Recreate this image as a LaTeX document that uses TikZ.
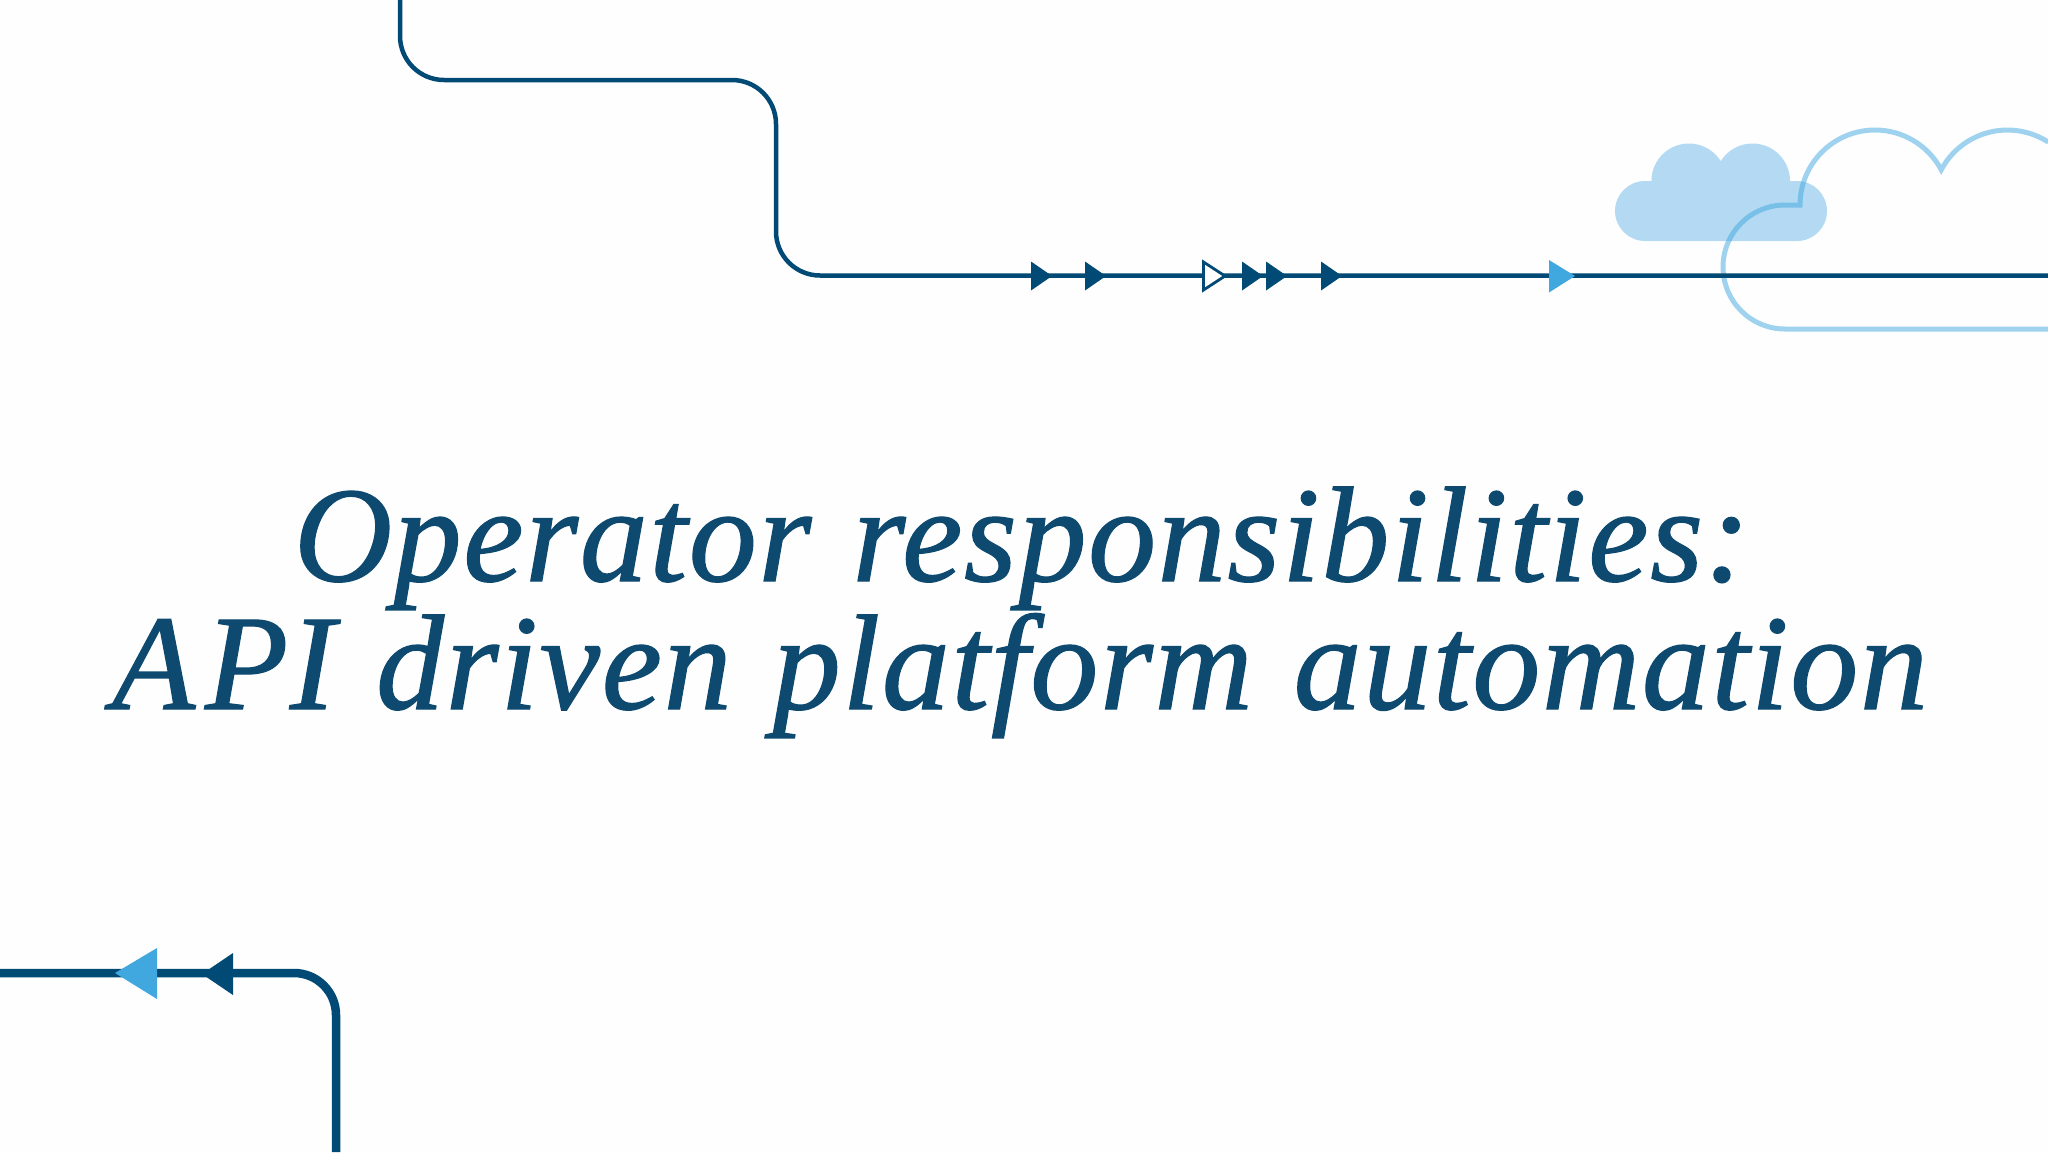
\documentclass[tikz,border=0pt]{standalone}
\usepackage{fontspec}
\setmainfont{Liberation Serif}[ItalicFeatures={FakeBold=0.9,LetterSpace=1.2,WordSpace=1.15}]
\usepackage{tikz}
\usetikzlibrary{backgrounds}
\definecolor{flowblue}{HTML}{004A75}
\definecolor{tipblue}{HTML}{41A8DF}
\definecolor{cloudblue}{HTML}{B3DAF2}
\definecolor{titleblue}{HTML}{0E4A70}
\tikzset{
	flowline/.style={draw=flowblue,line width=4.5pt,rounded corners=44pt},
	thickline/.style={draw=flowblue,line width=8.5pt,rounded corners=42pt},
	cloudline/.style={draw=tipblue,opacity=.5,line width=5pt,miter limit=10},
	titleline/.style={text=titleblue,anchor=base,inner sep=0pt,font=\fontsize{136}{150}\selectfont\itshape}
}

\begin{document}
\begin{tikzpicture}[x=1pt,y=1pt]
	
	\useasboundingbox[fill=white!99.5!black] (0,0) rectangle (2048,-1152);
	
	% clouds
	\fill[cloudblue] (1645,-241) -- (1797,-241) arc[start angle=270,end angle=450,radius=30] -- (1790,-181)
		arc[start angle=0,end angle=148,radius=37.5] arc[start angle=32,end angle=180,radius=37.5]
		-- (1645,-181) arc[start angle=90,end angle=270,radius=30] -- cycle;
	\draw[cloudline] (2048,-329) -- (1785,-329) arc[start angle=270,end angle=90,radius=62] -- (1800,-205)
		arc[start angle=180,end angle=28,radius=75] arc[start angle=152,end angle=57,radius=75];
	
	% upper line
	\coordinate (topstart) at (400,0);
	\coordinate (bendA) at (400,-80);
	\coordinate (bendB) at (776,-80);
	\coordinate (bendC) at (776,-275.5);
	\coordinate (topend) at (2048,-275.5);
	\draw[flowline] (topstart) -- (bendA) -- (bendB) -- (bendC) -- (topend);
	
	% lower line
	\coordinate (lowstart) at (0,-973);
	\coordinate (lowbend) at (336,-973);
	\coordinate (lowend) at (336,-1152);
	\draw[thickline] (lowstart) -- (lowbend) -- (lowend);
	
	% arrow heads
	\foreach \bx in {1031,1085,1242,1266,1321}{
		\fill[flowblue] (\bx,-261.5) -- (\bx+21,-276) -- (\bx,-290.5) -- cycle;
	}
	\fill[white] (1203,-263) -- (1226,-276) -- (1203,-290) -- cycle;
	\draw[flowblue,line width=2.8pt] (1203.5,-262) -- (1225,-276) -- (1203.5,-290) -- cycle;
	\fill[tipblue] (1549,-260) -- (1575,-276) -- (1549,-292.5) -- cycle;
	\fill[tipblue] (157,-948) -- (115,-973) -- (157,-999) -- cycle;
	\fill[flowblue] (233,-953) -- (202,-974) -- (233,-995) -- cycle;
	
	% title
	\node[titleline] (titleA) at (1022,-581) {Operator responsibilities:};
	\node[titleline] (titleB) at (1020,-709) {A\kern10pt PI driven platform automation};
	
\end{tikzpicture}
\end{document}
